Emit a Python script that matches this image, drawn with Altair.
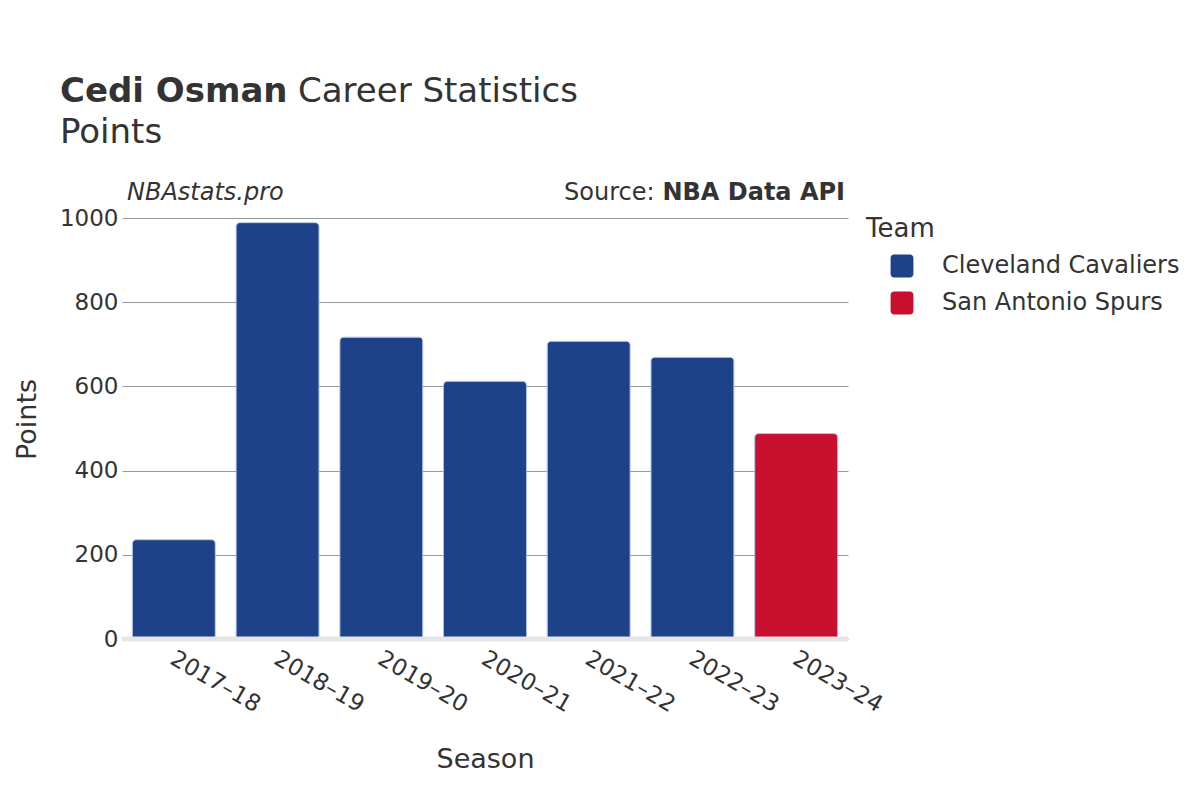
import altair as alt
import pandas as pd

seasons = ["2017–18", "2018–19", "2019–20", "2020–21", "2021–22", "2022–23", "2023–24"]
teams = ["Cleveland Cavaliers", "Cleveland Cavaliers", "Cleveland Cavaliers", "Cleveland Cavaliers",
         "Cleveland Cavaliers", "Cleveland Cavaliers", "San Antonio Spurs"]
points = [236, 989, 717, 612, 707, 669, 488]
team_names = ["Cleveland Cavaliers", "San Antonio Spurs"]
team_colors = ["#1d428a", "#c8102e"]
y_ticks = [0, 200, 400, 600, 800, 1000]

df = pd.DataFrame({"Season": seasons, "Team": teams, "Points": points})

FONT = "DejaVu Sans"
TXT = "#333333"
W, H = 726, 421

rounded = ("M -0.7 -1 H 0.7 A 0.3 0.3 0 0 1 1 -0.7 V 0.7 A 0.3 0.3 0 0 1 0.7 1 "
           "H -0.7 A 0.3 0.3 0 0 1 -1 0.7 V -0.7 A 0.3 0.3 0 0 1 -0.7 -1 Z")

y_axis = alt.Axis(title="Points", values=y_ticks, format="d", labelFontSize=23,
                  labelColor=TXT, labelFont=FONT, titleFont=FONT, titleFontSize=27,
                  titleColor=TXT, titleFontWeight="normal", titlePadding=18,
                  titleY=201, ticks=False, domain=False, gridColor="#999999",
                  gridWidth=1, labelPadding=4)

bars = alt.Chart(df).mark_bar(
    cornerRadiusTopLeft=4, cornerRadiusTopRight=4, stroke="#9fb8e0", strokeWidth=0.8
).encode(
    x=alt.X("Season:N", sort=seasons, scale=alt.Scale(paddingInner=0.2, paddingOuter=0.1),
            axis=alt.Axis(title="Season", labelAngle=30, labelFontSize=23, labelColor=TXT,
                          labelFont=FONT, titleFont=FONT, titleFontSize=27, titleColor=TXT,
                          titleFontWeight="normal", titlePadding=30, ticks=False, grid=False,
                          domain=False, labelPadding=8, labelOffset=4)),
    y=alt.Y("Points:Q", scale=alt.Scale(domain=[0, 1000]), axis=y_axis),
    color=alt.Color("Team:N", scale=alt.Scale(domain=team_names, range=team_colors),
                    legend=alt.Legend(title="Team", orient="none", legendX=744, legendY=-2,
                                      titleFontSize=26, titleFont=FONT, titleColor=TXT,
                                      titleFontWeight="normal", labelFontSize=24, labelFont=FONT,
                                      labelColor=TXT, labelLimit=0, symbolType=rounded,
                                      symbolSize=520, symbolStrokeWidth=0, labelOffset=28,
                                      rowPadding=13, padding=0, titlePadding=12,
                                      symbolOffset=24)),
)

baseline = alt.Chart(pd.DataFrame({"Points": [0]})).mark_rule(color="#e6e6e6", strokeWidth=5).encode(
    y=alt.Y("Points:Q", scale=alt.Scale(domain=[0, 1000]), axis=y_axis),
    x=alt.value(0), x2=alt.value(W)
)

def txt(text, x, y, size, weight="normal", style="normal", align="left"):
    return alt.Chart(pd.DataFrame({"t": [text]})).mark_text(
        font=FONT, fontSize=size, fontWeight=weight, fontStyle=style, align=align,
        baseline="alphabetic", color=TXT
    ).encode(text="t:N", x=alt.value(x), y=alt.value(y))

t1 = txt("Cedi Osman", -62, -116, 34, weight="bold")
t2 = txt("Career Statistics", 176, -116, 34)
t3 = txt("Points", -62, -75, 34)
t4 = txt("NBAstats.pro", 5, -18, 24, style="italic")
t5 = txt("NBA Data API", 723, -18, 24, weight="bold", align="right")
t6 = txt("Source:", 442, -18, 24)

chart = alt.layer(bars, baseline, t1, t2, t3, t4, t5, t6).properties(
    width=W, height=H,
    autosize=alt.AutoSizeParams(type="none"),
    padding={"left": 114, "top": 210, "right": 344, "bottom": 153},
    view=alt.ViewBackground(stroke="transparent", strokeWidth=0),
).configure_view(stroke="transparent", strokeWidth=0).configure(font=FONT)

chart.save("out.html", embed_options={"renderer": "svg", "actions": False})
